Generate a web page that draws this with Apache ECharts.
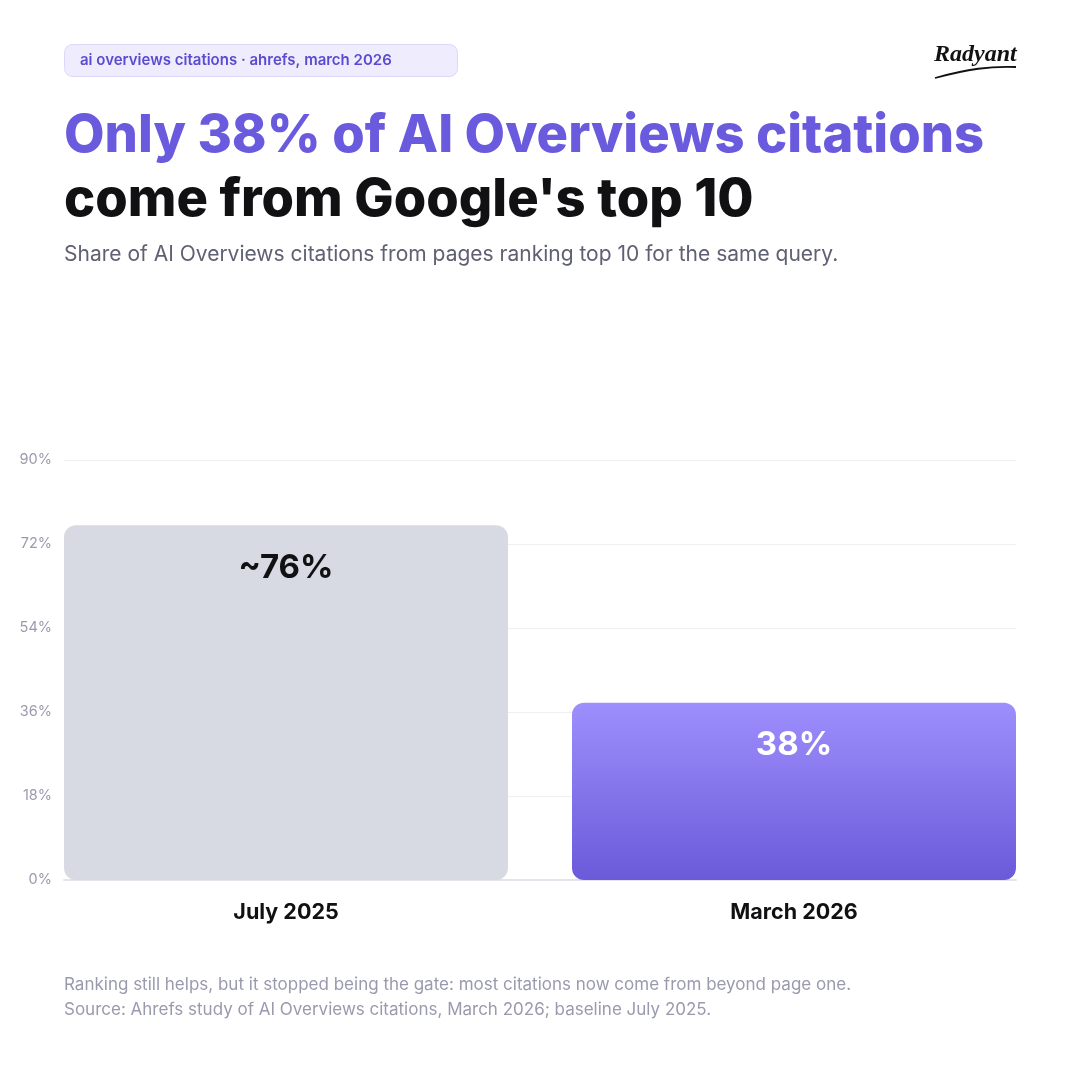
<!DOCTYPE html>
<html>
<head>
<meta charset="utf-8">
<script src="https://cdn.jsdelivr.net/npm/echarts@6/dist/echarts.min.js"></script>
<style>
  html, body { margin: 0; padding: 0; background: #fff; }
  #chart { width: 1080px; height: 1080px; }
</style>
</head>
<body>
<div id="chart"></div>
<script>
var categories = ['July 2025', 'March 2026'];
var shares = [76, 38];
var valueLabels = ['~76%', '38%'];
var yTicks = [0, 18, 36, 54, 72, 90];

var FONT = 'Inter, "Noto Sans", sans-serif';

var chart = echarts.init(document.getElementById('chart'));

chart.setOption({
	backgroundColor: '#ffffff',
	animation: false,
	grid: {
		left: 64,
		right: 64,
		top: 460,
		bottom: 200,
		containLabel: false
	},
	// bars sit at 0 and 1, padded so they touch the grid edges
	xAxis: {
		type: 'value',
		min: -0.437,
		max: 1.437,
		splitLine: { show: false },
		axisTick: { show: false },
		axisLine: {
			show: true,
			lineStyle: { color: '#e4e4eb', width: 2 }
		},
		axisLabel: {
			customValues: [0, 1],
			margin: 22,
			color: '#111114',
			fontFamily: FONT,
			fontSize: 21.5,
			fontWeight: 'bold',
			formatter: function(v) {
				return categories[Math.round(v)];
			}
		}
	},
	yAxis: {
		type: 'value',
		min: yTicks[0],
		max: yTicks[yTicks.length - 1],
		interval: 18,
		axisLine: { show: false },
		axisTick: { show: false },
		axisLabel: {
			margin: 12,
			color: '#9a9aae',
			fontFamily: FONT,
			fontSize: 14.5,
			formatter: function(v) {
				return v + '%';
			}
		},
		splitLine: {
			lineStyle: { color: '#efeff3', width: 1 }
		}
	},
	series: [{
		type: 'bar',
		barWidth: 444,
		data: shares.map(function(v, i) {
			return {
				value: [i, v],
				itemStyle: i === 0 ? {
					color: '#d8dae3',
					borderRadius: 12
				} : {
					borderRadius: 12,
					color: new echarts.graphic.LinearGradient(0, 0, 0, 1, [
						{ offset: 0, color: '#9d8ffd' },
						{ offset: 1, color: '#6b5ad9' }
					])
				},
				label: {
					color: i === 0 ? '#111114' : '#ffffff'
				}
			};
		}),
		label: {
			show: true,
			position: 'insideTop',
			distance: 26,
			fontFamily: FONT,
			fontSize: 33,
			fontWeight: 'bold',
			formatter: function(p) {
				return valueLabels[p.dataIndex];
			}
		}
	}],
	graphic: [
		// tag
		{
			type: 'rect',
			shape: { x: 64.5, y: 44.5, width: 393, height: 32, r: 8 },
			style: { fill: '#efecfd', stroke: '#dcd7fb', lineWidth: 1 }
		},
		{
			type: 'text',
			x: 80,
			y: 60.5,
			style: {
				text: 'ai overviews citations \u00b7 ahrefs, march 2026',
				fill: '#5a4bd0',
				font: '600 15px ' + FONT,
				verticalAlign: 'middle'
			}
		},
		// logo
		{
			type: 'text',
			x: 934,
			y: 43,
			style: {
				text: 'Radyant',
				fill: '#111111',
				font: 'italic bold 24px "Liberation Serif", serif'
			}
		},
		{
			type: 'bezierCurve',
			shape: { x1: 935, y1: 78, x2: 1016, y2: 67, cpx1: 968, cpy1: 69, cpx2: 990, cpy2: 66 },
			style: { stroke: '#111111', lineWidth: 1.8, fill: null }
		},
		// title
		{
			type: 'text',
			x: 64,
			y: 110,
			style: {
				text: 'Only 38% of AI Overviews citations',
				fill: '#6a5add',
				font: '800 52.5px ' + FONT
			}
		},
		{
			type: 'text',
			x: 64,
			y: 174,
			style: {
				text: "come from Google's top 10",
				fill: '#111114',
				font: '800 52.5px ' + FONT
			}
		},
		{
			type: 'text',
			x: 64,
			y: 244,
			style: {
				text: 'Share of AI Overviews citations from pages ranking top 10 for the same query.',
				fill: '#5f6072',
				font: '21px ' + FONT
			}
		},
		// footer
		{
			type: 'text',
			x: 64,
			y: 976,
			style: {
				text: 'Ranking still helps, but it stopped being the gate: most citations now come from beyond page one.',
				fill: '#9a9aae',
				font: '17px ' + FONT
			}
		},
		{
			type: 'text',
			x: 64,
			y: 1001,
			style: {
				text: 'Source: Ahrefs study of AI Overviews citations, March 2026; baseline July 2025.',
				fill: '#9a9aae',
				font: '17px ' + FONT
			}
		}
	]
});
</script>
</body>
</html>
